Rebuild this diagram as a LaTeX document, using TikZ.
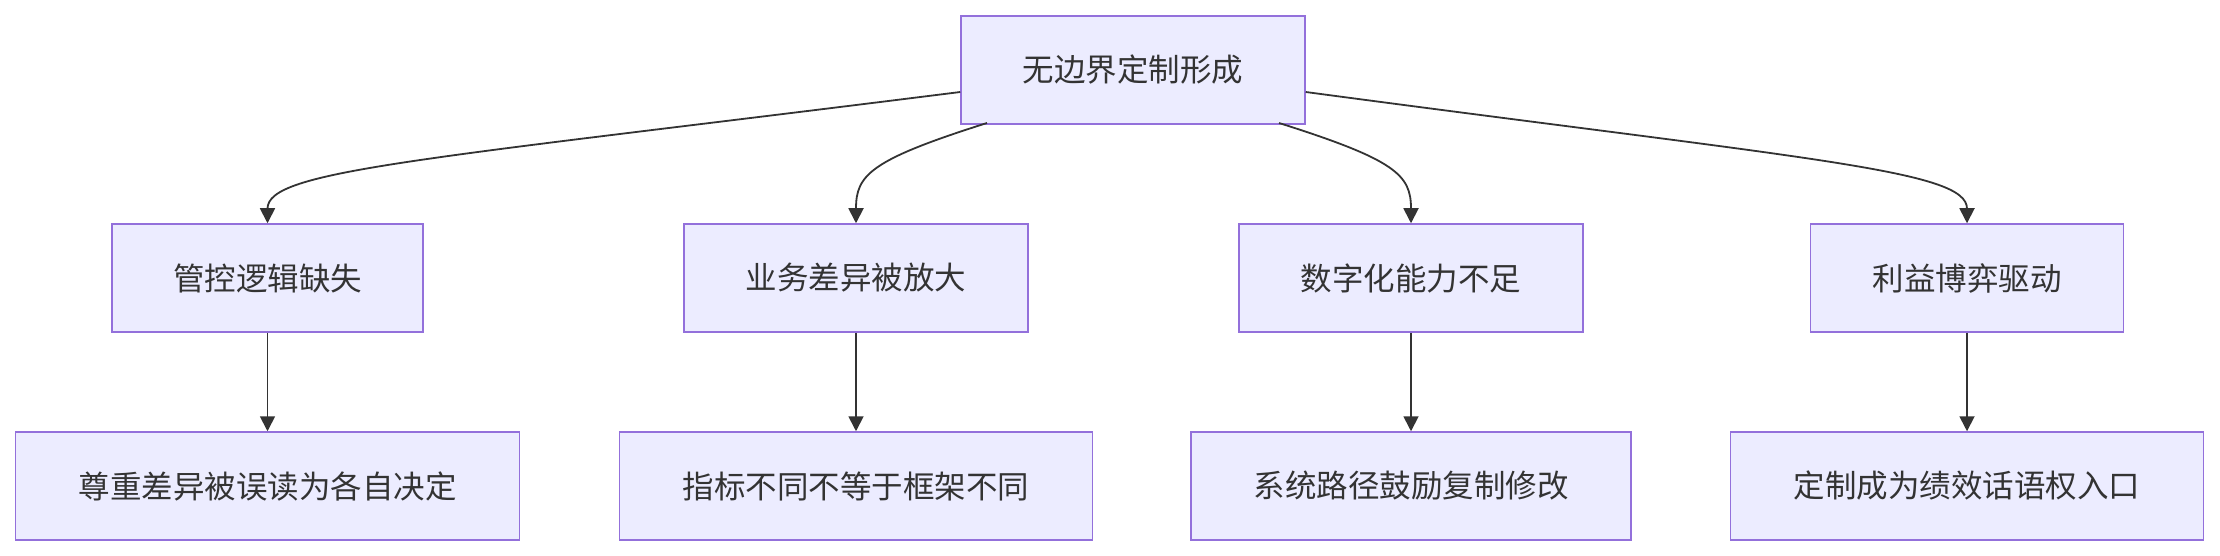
\documentclass[tikz,border=0pt]{standalone}
\usepackage{fontspec}
\newfontfamily\cjk{Noto Sans CJK SC}
\usetikzlibrary{arrows.meta}
\definecolor{boxfill}{HTML}{ECECFF}
\definecolor{boxline}{HTML}{9370DB}
\definecolor{ink}{HTML}{333333}
\begin{document}
\begin{tikzpicture}[x=1pt, y=-1pt,
  blk/.style={draw=boxline, line width=1.5pt, fill=boxfill, text=ink,
    font=\cjk\fontsize{31.5}{36}\selectfont, inner xsep=0pt, inner ysep=0pt,
    minimum height=108pt},
  link/.style={ink, line width=1.8pt, -{Triangle[length=15pt, width=15pt]}}]
  \useasboundingbox (0,0) rectangle (2220,556);

  % top of the tree
  \node[blk, minimum width=344pt] (top) at (1133,70) {无边界定制形成};

  % second row: the four causes
  \node[blk, minimum width=311pt] (c1) at (267.5,278) {管控逻辑缺失};
  \node[blk, minimum width=344pt] (c2) at (856,278) {业务差异被放大};
  \node[blk, minimum width=344pt] (c3) at (1411,278) {数字化能力不足};
  \node[blk, minimum width=313pt] (c4) at (1967,278) {利益博弈驱动};

  % third row: what each cause leads to
  \node[blk, minimum width=504pt] (e1) at (267.5,486) {尊重差异被误读为各自决定};
  \node[blk, minimum width=473pt] (e2) at (856,486) {指标不同不等于框架不同};
  \node[blk, minimum width=440pt] (e3) at (1411,486) {系统路径鼓励复制修改};
  \node[blk, minimum width=473pt] (e4) at (1967,486) {定制成为绩效话语权入口};

  % curved links out of the top box
  \draw[link] (top.west |- 0,92) .. controls (420,160) and (267.5,170) .. (c1.north);
  \draw[link] (987,123) .. controls (870,160) and (856,175) .. (c2.north);
  \draw[link] (1279,123) .. controls (1396,160) and (1411,175) .. (c3.north);
  \draw[link] (top.east |- 0,92) .. controls (1814,160) and (1967,170) .. (c4.north);

  % straight links down
  \foreach \i in {1,...,4}
    \draw[link] (c\i.south) -- (e\i.north);
\end{tikzpicture}
\end{document}
